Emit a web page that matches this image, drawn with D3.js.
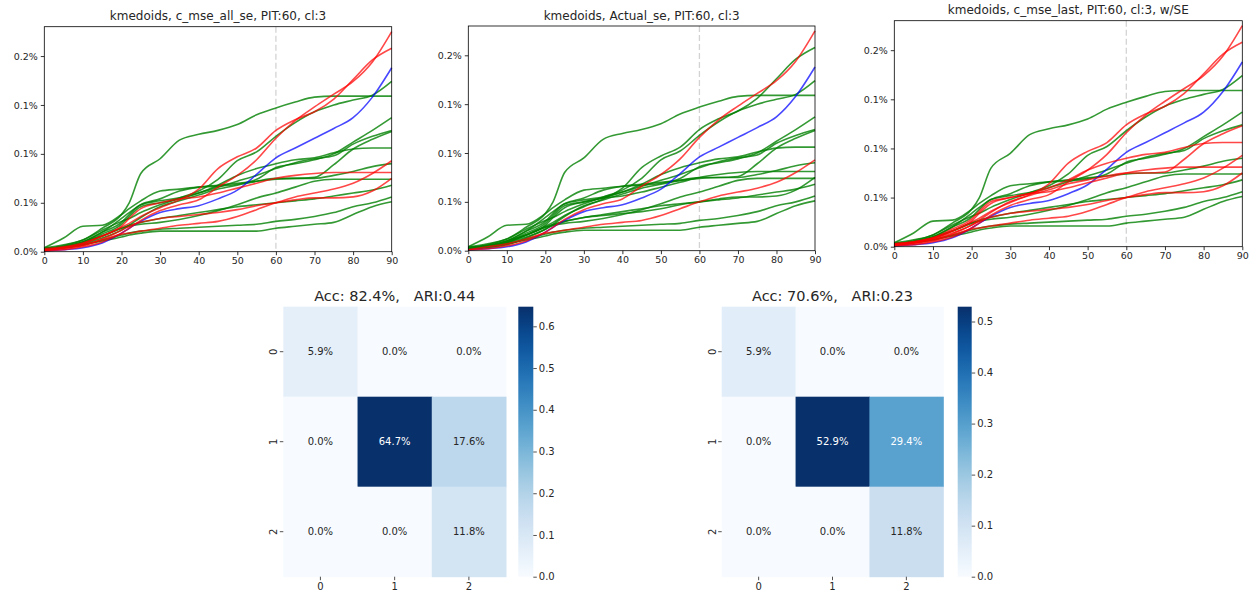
<!DOCTYPE html>
<html><head><meta charset="utf-8">
<script src="https://cdn.jsdelivr.net/npm/d3@7"></script>
<style>
body{margin:0;background:#fff;}
svg{display:block;font-family:"DejaVu Sans",sans-serif;}
text{white-space:pre;}
</style></head>
<body><svg id="c" width="1252" height="597"></svg>
<script>
// ---------- data ----------
const days = [0,5,10,15,20,22,25,30,35,40,45,50,55,60,65,70,75,80,85,90];
const lineA   = [0.001,0.002,0.005,0.010,0.019,0.024,0.032,0.042,0.048,0.053,0.066,0.078,0.094,0.116,0.134,0.148,0.161,0.174,0.194,0.225];
const lineBlue= [0.001,0.002,0.004,0.009,0.019,0.024,0.031,0.040,0.044,0.047,0.054,0.063,0.079,0.096,0.106,0.116,0.126,0.137,0.158,0.188];
const lineC   = [0.001,0.004,0.007,0.012,0.018,0.019,0.021,0.024,0.027,0.029,0.031,0.036,0.043,0.050,0.056,0.060,0.064,0.070,0.080,0.093];
const lineB   = [0.003,0.005,0.009,0.016,0.025,0.029,0.036,0.045,0.053,0.064,0.085,0.097,0.106,0.124,0.135,0.143,0.156,0.176,0.196,0.208];
const lineG1  = [0.004,0.007,0.012,0.024,0.038,0.050,0.080,0.095,0.114,0.120,0.124,0.130,0.140,0.147,0.153,0.158,0.159,0.159,0.159,0.159];
const lineG2  = [0.003,0.006,0.012,0.022,0.031,0.034,0.040,0.048,0.055,0.062,0.074,0.093,0.102,0.118,0.132,0.143,0.150,0.155,0.160,0.174];
const lineG3  = [0.004,0.014,0.026,0.027,0.038,0.044,0.052,0.062,0.064,0.066,0.067,0.069,0.074,0.086,0.090,0.094,0.100,0.112,0.124,0.137];
const lineG4  = [0.003,0.005,0.010,0.020,0.030,0.038,0.048,0.052,0.055,0.060,0.066,0.072,0.078,0.085,0.091,0.095,0.098,0.110,0.118,0.124];
const lineG5  = [0.002,0.004,0.008,0.014,0.022,0.027,0.035,0.046,0.052,0.058,0.064,0.068,0.072,0.075,0.075,0.076,0.089,0.105,0.115,0.123];
const lineG6  = [0.003,0.005,0.009,0.018,0.028,0.036,0.046,0.050,0.054,0.060,0.068,0.078,0.085,0.090,0.094,0.096,0.101,0.105,0.106,0.106];
const lineG7  = [0.002,0.005,0.010,0.020,0.034,0.040,0.048,0.054,0.062,0.066,0.068,0.070,0.072,0.074,0.075,0.075,0.078,0.082,0.087,0.090];
const lineD   = [0.002,0.004,0.008,0.016,0.026,0.034,0.044,0.050,0.054,0.056,0.060,0.065,0.070,0.075,0.078,0.080,0.081,0.081,0.081,0.081];
const lineE   = [0.002,0.003,0.006,0.013,0.022,0.026,0.030,0.034,0.036,0.038,0.040,0.043,0.047,0.050,0.053,0.055,0.055,0.056,0.062,0.075];
const lineG10 = [0.003,0.005,0.009,0.016,0.024,0.026,0.028,0.030,0.033,0.037,0.042,0.048,0.055,0.060,0.066,0.072,0.074,0.074,0.074,0.074];
const lineG11 = [0.002,0.004,0.007,0.012,0.017,0.019,0.021,0.023,0.024,0.025,0.026,0.027,0.028,0.031,0.033,0.036,0.040,0.046,0.050,0.056];
const lineG12 = [0.002,0.004,0.007,0.011,0.015,0.017,0.019,0.021,0.021,0.021,0.021,0.021,0.021,0.024,0.026,0.028,0.030,0.038,0.046,0.051];
const lineG13 = [0.003,0.005,0.010,0.016,0.024,0.027,0.030,0.034,0.037,0.040,0.043,0.046,0.048,0.050,0.052,0.054,0.057,0.060,0.063,0.068];

const allLines = [lineA,lineBlue,lineC,lineB,lineG1,lineG2,lineG3,lineG4,lineG5,lineG6,lineG7,lineD,lineE,lineG10,lineG11,lineG12,lineG13];
// cluster per line (0 blue, 1 green, 2 red)
const clustersAllSe = [2,0,2,2,1,1,1,1,1,1,1,2,2,1,1,1,1];
const clustersActual= [2,0,2,1,1,1,1,1,1,1,1,1,1,1,1,1,1];
const clustersLast  = [2,0,2,2,1,1,1,1,2,2,1,2,2,1,1,1,1];
const clusterColors = ["#0000ff","#008000","#ff0000"];

const lineTitles = ["kmedoids, c_mse_all_se, PIT:60, cl:3","kmedoids, Actual_se, PIT:60, cl:3","kmedoids, c_mse_last, PIT:60, cl:3, w/SE"];
const xTicks = [0,10,20,30,40,50,60,70,80,90];
const yTickValues = [0,0.05,0.10,0.15,0.20];
const yTickLabels = ["0.0%","0.1%","0.1%","0.1%","0.2%"];
const pitDay = 60;

const matLabels = ["0","1","2"];
const confMatrix1 = [[0.059,0,0],[0,0.647,0.176],[0,0,0.118]];
const confMatrix2 = [[0.059,0,0],[0,0.529,0.294],[0,0,0.118]];
const matTitles = ["Acc: 82.4%,   ARI:0.44","Acc: 70.6%,   ARI:0.23"];
const cbarTicks1 = [0,0.1,0.2,0.3,0.4,0.5,0.6];
const cbarTicks2 = [0,0.1,0.2,0.3,0.4,0.5];

// ---------- layout ----------
const svg = d3.select("#c");
const linePanels = [
  {l:44.3,r:391.7,t:26.7,b:251.7,cl:clustersAllSe,title:lineTitles[0]},
  {l:468.3,r:815,t:26,b:250.7,cl:clustersActual,title:lineTitles[1]},
  {l:894.3,r:1242.3,t:20.7,b:246.7,cl:clustersLast,title:lineTitles[2]}
];
const TXT = "#262626";

linePanels.forEach(p=>{
  const g = svg.append("g");
  const x = d3.scaleLinear().domain([0,90]).range([p.l,p.r]);
  const y = d3.scaleLinear().domain([0,0.23]).range([p.b,p.t]);
  g.append("line").attr("x1",x(pitDay)).attr("x2",x(pitDay)).attr("y1",p.t).attr("y2",p.b)
    .attr("stroke","#d3d3d3").attr("stroke-width",1.3).attr("stroke-dasharray","6,3");
  const line = d3.line().x((d,i)=>x(days[i])).y(d=>y(d)).curve(d3.curveMonotoneX);
  const order = [1,0,2];
  order.forEach(c=>{
    allLines.forEach((s,i)=>{
      if(p.cl[i]!==c) return;
      g.append("path").attr("d",line(s)).attr("fill","none")
        .attr("stroke",clusterColors[c]).attr("stroke-width",1.6)
        .attr("stroke-opacity",c===1?0.8:0.72);
    });
  });
  g.append("rect").attr("x",p.l).attr("y",p.t).attr("width",p.r-p.l).attr("height",p.b-p.t)
    .attr("fill","none").attr("stroke","#000").attr("stroke-width",0.8);
  const xa = g.append("g").attr("transform",`translate(0,${p.b})`)
    .call(d3.axisBottom(x).tickValues(xTicks).tickSize(3.5).tickPadding(2.5).tickFormat(d3.format("d")));
  const ya = g.append("g").attr("transform",`translate(${p.l},0)`)
    .call(d3.axisLeft(y).tickValues(yTickValues).tickSize(3.5).tickPadding(3).tickFormat((d,i)=>yTickLabels[i]));
  [xa,ya].forEach(a=>{
    a.select(".domain").remove();
    a.selectAll("line").attr("stroke","#000").attr("stroke-width",0.8);
    a.selectAll("text").attr("fill",TXT).style("font-size","9.5px").style("font-family","DejaVu Sans");
  });
  g.append("text").attr("x",(p.l+p.r)/2).attr("y",p.t-6.5).attr("text-anchor","middle")
    .attr("fill",TXT).style("font-size","12px").text(p.title);
});

// ---------- heatmaps ----------
function lum(c){
  const r = d3.rgb(c);
  const f = v=>{v/=255; return v<=0.03928? v/12.92 : Math.pow((v+0.055)/1.055,2.4);};
  return 0.2126*f(r.r)+0.7152*f(r.g)+0.0722*f(r.b);
}
const heatPanels = [
  {l:283.3,r:506,t:306.7,b:576.7,cbl:518.3,cbr:533.3,m:confMatrix1,ticks:cbarTicks1,title:matTitles[0],id:"g1"},
  {l:721.7,r:943.3,t:306.7,b:576.7,cbl:957.7,cbr:971.7,m:confMatrix2,ticks:cbarTicks2,title:matTitles[1],id:"g2"}
];
const defs = svg.append("defs");
heatPanels.forEach(h=>{
  const g = svg.append("g");
  const vmax = d3.max(h.m.flat());
  const color = d3.scaleSequential(d3.interpolateBlues).domain([0,vmax]);
  const x = d3.scaleBand().domain(matLabels).range([h.l,h.r]);
  const y = d3.scaleBand().domain(matLabels).range([h.t,h.b]);
  h.m.forEach((row,i)=>row.forEach((v,j)=>{
    const c = color(v);
    g.append("rect").attr("x",x(matLabels[j])).attr("y",y(matLabels[i]))
      .attr("width",x.bandwidth()+0.5).attr("height",y.bandwidth()+0.5).attr("fill",c);
    g.append("text").attr("x",x(matLabels[j])+x.bandwidth()/2).attr("y",y(matLabels[i])+y.bandwidth()/2)
      .attr("dy","0.35em").attr("text-anchor","middle").style("font-size","10px")
      .attr("fill",lum(c)>0.408?TXT:"#ffffff").text(d3.format(".1%")(v));
  }));
  const xa = g.append("g").attr("transform",`translate(0,${h.b})`)
    .call(d3.axisBottom(x).tickSize(3.5).tickPadding(3));
  const ya = g.append("g").attr("transform",`translate(${h.l},0)`)
    .call(d3.axisLeft(y).tickSize(3.5).tickPadding(3));
  [xa,ya].forEach(a=>{
    a.select(".domain").remove();
    a.selectAll("line").attr("stroke",TXT).attr("stroke-width",0.8);
    a.selectAll("text").attr("fill",TXT).style("font-size","10px").style("font-family","DejaVu Sans");
  });
  ya.selectAll(".tick text").attr("text-anchor","middle").attr("dy","0")
    .attr("transform","translate(-10,0) rotate(-90)").attr("x",0).attr("y",4);
  g.append("text").attr("x",(h.l+h.r)/2).attr("y",h.t-6).attr("text-anchor","middle")
    .attr("xml:space","preserve").style("white-space","pre")
    .attr("fill",TXT).style("font-size","14.5px").text(h.title);
  const grad = defs.append("linearGradient").attr("id",h.id).attr("x1",0).attr("x2",0).attr("y1",1).attr("y2",0);
  d3.range(0,1.0001,0.05).forEach(t=>grad.append("stop").attr("offset",t).attr("stop-color",d3.interpolateBlues(t)));
  g.append("rect").attr("x",h.cbl).attr("y",h.t).attr("width",h.cbr-h.cbl).attr("height",h.b-h.t).attr("fill",`url(#${h.id})`);
  const cy = d3.scaleLinear().domain([0,vmax]).range([h.b,h.t]);
  const ca = g.append("g").attr("transform",`translate(${h.cbr},0)`)
    .call(d3.axisRight(cy).tickValues(h.ticks).tickSize(3.5).tickPadding(2).tickFormat(d3.format(".1f")));
  ca.select(".domain").remove();
  ca.selectAll("line").attr("stroke",TXT).attr("stroke-width",0.8);
  ca.selectAll("text").attr("fill",TXT).style("font-size","10px").style("font-family","DejaVu Sans");
});
</script></body></html>
